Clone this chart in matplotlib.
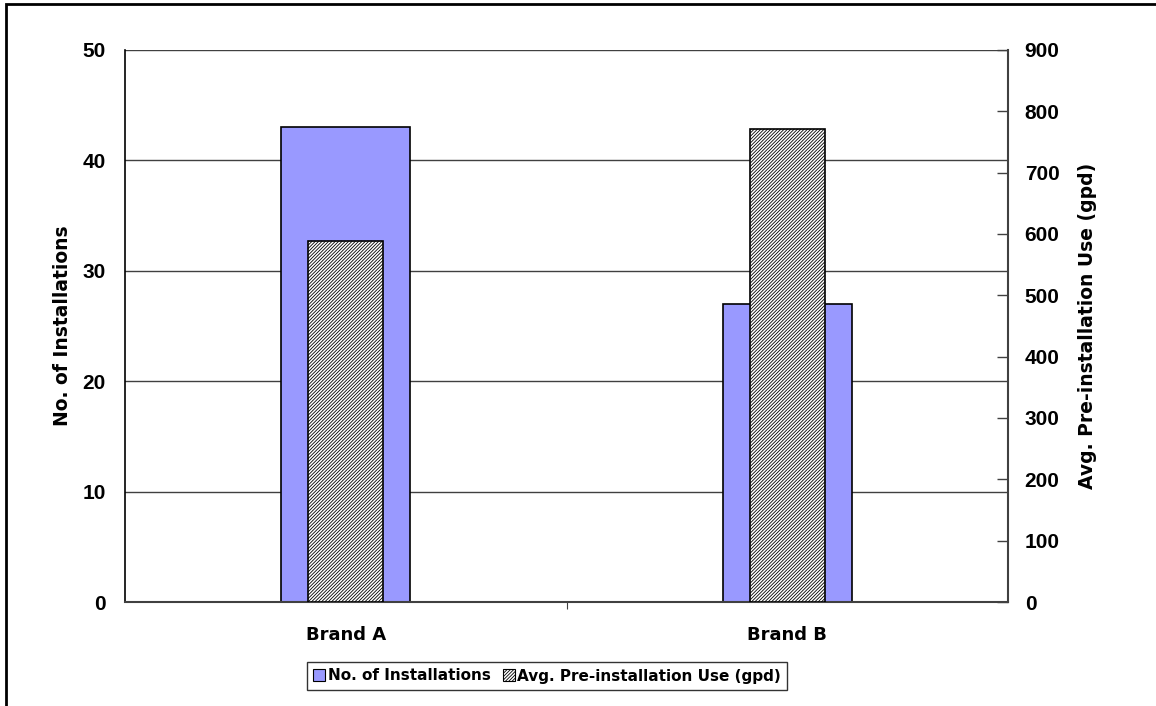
import matplotlib
matplotlib.use("Agg")
import matplotlib.pyplot as plt
from matplotlib.patches import Rectangle, Patch
import numpy as np

categories = ["Brand A", "Brand B"]
installations = [43, 27]
pre_use_gpd = [589, 771]
left_ticks = [0, 10, 20, 30, 40, 50]
right_ticks = [0, 100, 200, 300, 400, 500, 600, 700, 800, 900]

plt.rcParams['hatch.linewidth'] = 0.6
plt.rcParams['hatch.color'] = '#707070'

W, H = 1156, 706
fig = plt.figure(figsize=(W / 100, H / 100), dpi=100)
ax = fig.add_axes([125 / W, 1 - 602 / H, (1008 - 125) / W, (602 - 50) / H])
ax2 = ax.twinx()

x = np.arange(len(categories))
ax.bar(x, installations, width=0.292, color='#9999FF', edgecolor='black', linewidth=1.2, zorder=2)
ax2.bar(x, pre_use_gpd, width=0.17, color='white', edgecolor='black', linewidth=1.2,
        hatch='/' * 10, zorder=2)

ax.set_xlim(-0.5, len(categories) - 0.5)
ax.set_ylim(0, 50)
ax2.set_ylim(0, 900)
ax.set_yticks(left_ticks)
ax2.set_yticks(right_ticks)

ax.set_axisbelow(True)
ax.yaxis.grid(True, color='#404040', linewidth=1.0)

num_font = dict(family='Liberation Sans', weight='bold', size=15)
ax.set_yticklabels([str(v) for v in left_ticks], fontdict=num_font)
ax2.set_yticklabels([str(v) for v in right_ticks], fontdict=num_font)
ax.tick_params(axis='y', direction='in', length=0, pad=14)
ax2.tick_params(axis='y', direction='in', length=8, width=1.0, color='#404040', pad=12)

# x ticks: boundaries as major ticks, categories as minor ticks with labels
ax.set_xticks([0.5])
ax.set_xticklabels([''])
ax.tick_params(axis='x', which='major', direction='out', length=5, color='#404040')
ax.set_xticks(x, minor=True)
ax.set_xticklabels(categories, minor=True, fontdict=dict(family='DejaVu Sans', weight='bold', size=13))
ax.tick_params(axis='x', which='minor', length=0, pad=17)

for a in (ax, ax2):
    a.spines['top'].set_visible(False)
ax.spines['right'].set_visible(False)
ax2.spines['left'].set_visible(False)
ax2.spines['bottom'].set_visible(False)
ax.spines['left'].set_color('black')
ax.spines['left'].set_linewidth(1.2)
ax.spines['bottom'].set_color('#404040')
ax.spines['bottom'].set_linewidth(1.5)
ax2.spines['right'].set_color('#404040')
ax2.spines['right'].set_linewidth(1.5)

lab_font = dict(family='DejaVu Sans', weight='bold', size=13.5)
ax.set_ylabel("No. of Installations", fontdict=lab_font, labelpad=7)
ax2.set_ylabel("Avg. Pre-installation Use (gpd)", fontdict=lab_font, labelpad=13)

handles = [Patch(facecolor='#9999FF', edgecolor='black', linewidth=0.8),
           Patch(facecolor='white', edgecolor='black', linewidth=0.8, hatch='/' * 10)]
leg = fig.legend(handles, ["No. of Installations", "Avg. Pre-installation Use (gpd)"],
                 loc='center', bbox_to_anchor=(547 / W, 1 - 676 / H), ncol=2,
                 prop=dict(family='DejaVu Sans', weight='bold', size=11),
                 frameon=True, fancybox=False, shadow=False, borderpad=0.4,
                 handlelength=0.8, handleheight=0.8, handletextpad=0.15,
                 columnspacing=0.8, borderaxespad=0)
leg.get_frame().set_edgecolor('black')
leg.get_frame().set_linewidth(1.0)

fig.add_artist(Rectangle((6 / W, -0.05), 2.0, 1.05 - 4.5 / H, transform=fig.transFigure,
                         fill=False, edgecolor='black', linewidth=2.0))

fig.savefig("out.png", dpi=100)
